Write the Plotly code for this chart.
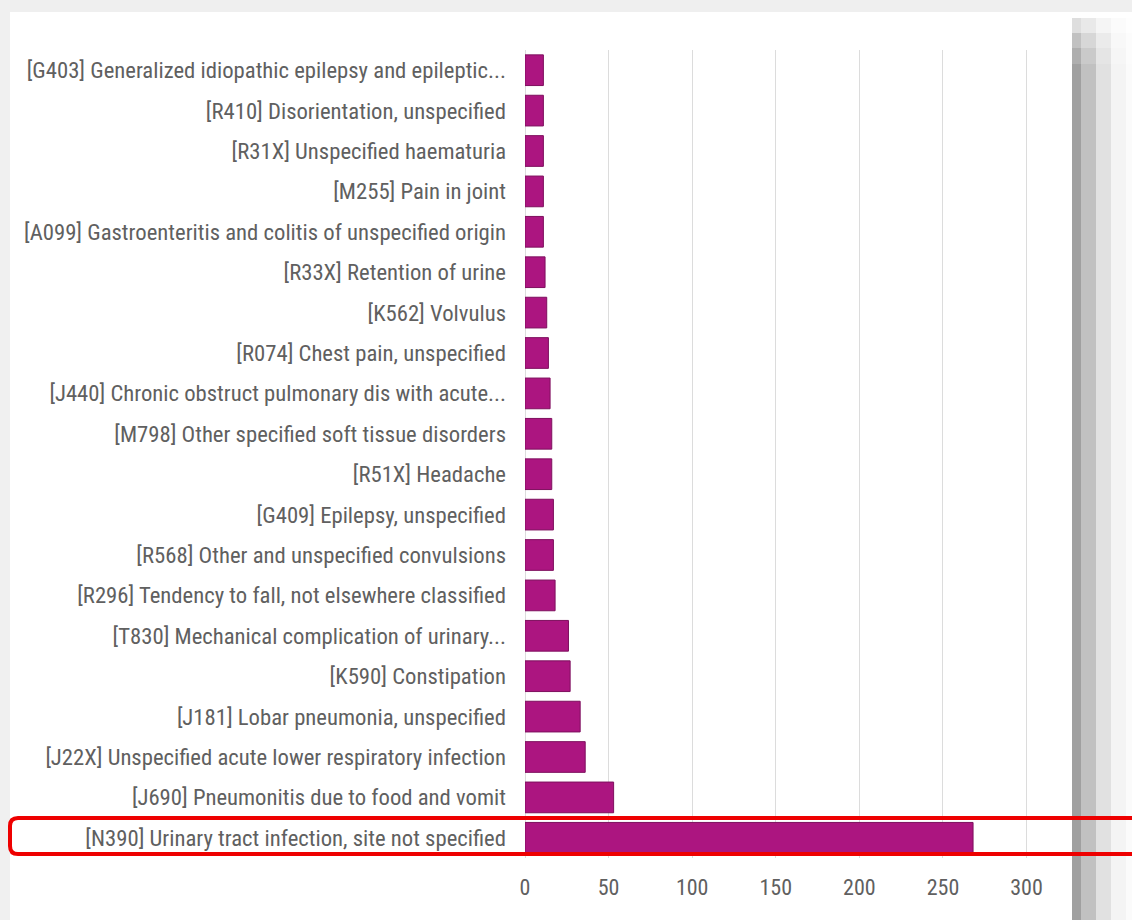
import plotly.graph_objects as go

# Diagnosis labels, listed top to bottom
diagnoses = [
    "[G403] Generalized idiopathic epilepsy and epileptic...",
    "[R410] Disorientation, unspecified",
    "[R31X] Unspecified haematuria",
    "[M255] Pain in joint",
    "[A099] Gastroenteritis and colitis of unspecified origin",
    "[R33X] Retention of urine",
    "[K562] Volvulus",
    "[R074] Chest pain, unspecified",
    "[J440] Chronic obstruct pulmonary dis with acute...",
    "[M798] Other specified soft tissue disorders",
    "[R51X] Headache",
    "[G409] Epilepsy, unspecified",
    "[R568] Other and unspecified convulsions",
    "[R296] Tendency to fall, not elsewhere classified",
    "[T830] Mechanical complication of urinary...",
    "[K590] Constipation",
    "[J181] Lobar pneumonia, unspecified",
    "[J22X] Unspecified acute lower respiratory infection",
    "[J690] Pneumonitis due to food and vomit",
    "[N390] Urinary tract infection, site not specified",
]
counts = [11, 11, 11, 11, 11, 12, 13, 14, 15, 16, 16, 17, 17, 18, 26, 27, 33, 36, 53, 268]
x_ticks = [0, 50, 100, 150, 200, 250, 300]

W, H = 1132, 920
M_L, M_R, M_T, M_B = 525, 72, 50, 62
PW, PH = W - M_L - M_R, H - M_T - M_B


def px(x):
    return (x - M_L) / PW


def py(y):
    return (H - M_B - y) / PH


BAR = "#AC1580"
TEXT = "#606060"
FONT = "Liberation Sans Narrow, Arial Narrow, Roboto Condensed, sans-serif"

fig = go.Figure(
    go.Bar(
        x=counts,
        y=diagnoses,
        orientation="h",
        marker=dict(color=BAR, line=dict(color="#7e0f5e", width=1)),
        width=0.76,
        hoverinfo="x+y",
    )
)

shapes = []

# page backdrop: light grey strips on top and left
shapes.append(dict(type="rect", xref="paper", yref="paper", x0=px(0), x1=px(W), y0=py(0), y1=py(12),
                   fillcolor="#efefef", line_width=0, layer="below"))
shapes.append(dict(type="rect", xref="paper", yref="paper", x0=px(0), x1=px(10), y0=py(0), y1=py(H),
                   fillcolor="#f0f0f0", line_width=0, layer="below"))

# drop shadow down the right edge of the card
shadow_cols = [(1072, 1081, "#a0a0a0"), (1081, 1096, "#c1c1c1"), (1096, 1111, "#e1e1e1"),
               (1111, 1126, "#f4f4f4"), (1126, 1132, "#fbfbfb")]
shadow_fade = [(18, 33, 0.35), (33, 48, 0.65), (48, 64, 0.85)]
for x0, x1, col in shadow_cols:
    shapes.append(dict(type="rect", xref="paper", yref="paper", x0=px(x0), x1=px(x1), y0=py(64), y1=py(H),
                       fillcolor=col, line_width=0, layer="below"))
    for y0, y1, op in shadow_fade:
        shapes.append(dict(type="rect", xref="paper", yref="paper", x0=px(x0), x1=px(x1), y0=py(y0), y1=py(y1),
                           fillcolor=col, opacity=op, line_width=0, layer="below"))

# red rounded highlight around the top diagnosis
lx, rx, ty, by, r = 10, 1150, 818, 854, 8
path = (
    f"M {px(rx)},{py(ty)} L {px(lx + r)},{py(ty)} "
    f"Q {px(lx)},{py(ty)} {px(lx)},{py(ty + r)} "
    f"L {px(lx)},{py(by - r)} "
    f"Q {px(lx)},{py(by)} {px(lx + r)},{py(by)} "
    f"L {px(rx)},{py(by)}"
)
shapes.append(dict(type="path", xref="paper", yref="paper", path=path,
                   line=dict(color="#ee0000", width=4), layer="above"))

fig.update_layout(
    width=W,
    height=H,
    margin=dict(l=M_L, r=M_R, t=M_T, b=M_B, pad=0),
    paper_bgcolor="white",
    plot_bgcolor="white",
    showlegend=False,
    bargap=0.24,
    shapes=shapes,
    font=dict(family=FONT, color=TEXT, size=22),
    xaxis=dict(
        range=[0, 320],
        tickvals=x_ticks,
        ticktext=[str(v) for v in x_ticks],
        showgrid=True,
        gridcolor="#dcdcdc",
        gridwidth=1,
        zeroline=True,
        zerolinecolor="#dcdcdc",
        zerolinewidth=1,
        showline=False,
        ticks="",
        ticklabelstandoff=14,
        tickfont=dict(family=FONT, color=TEXT, size=22),
    ),
    yaxis=dict(
        categoryorder="array",
        categoryarray=diagnoses,
        autorange="reversed",
        showgrid=False,
        zeroline=False,
        showline=False,
        ticks="",
        ticklabelstandoff=18,
        tickfont=dict(family=FONT, color=TEXT, size=22.7),
    ),
)

fig.write_html("out.html")
